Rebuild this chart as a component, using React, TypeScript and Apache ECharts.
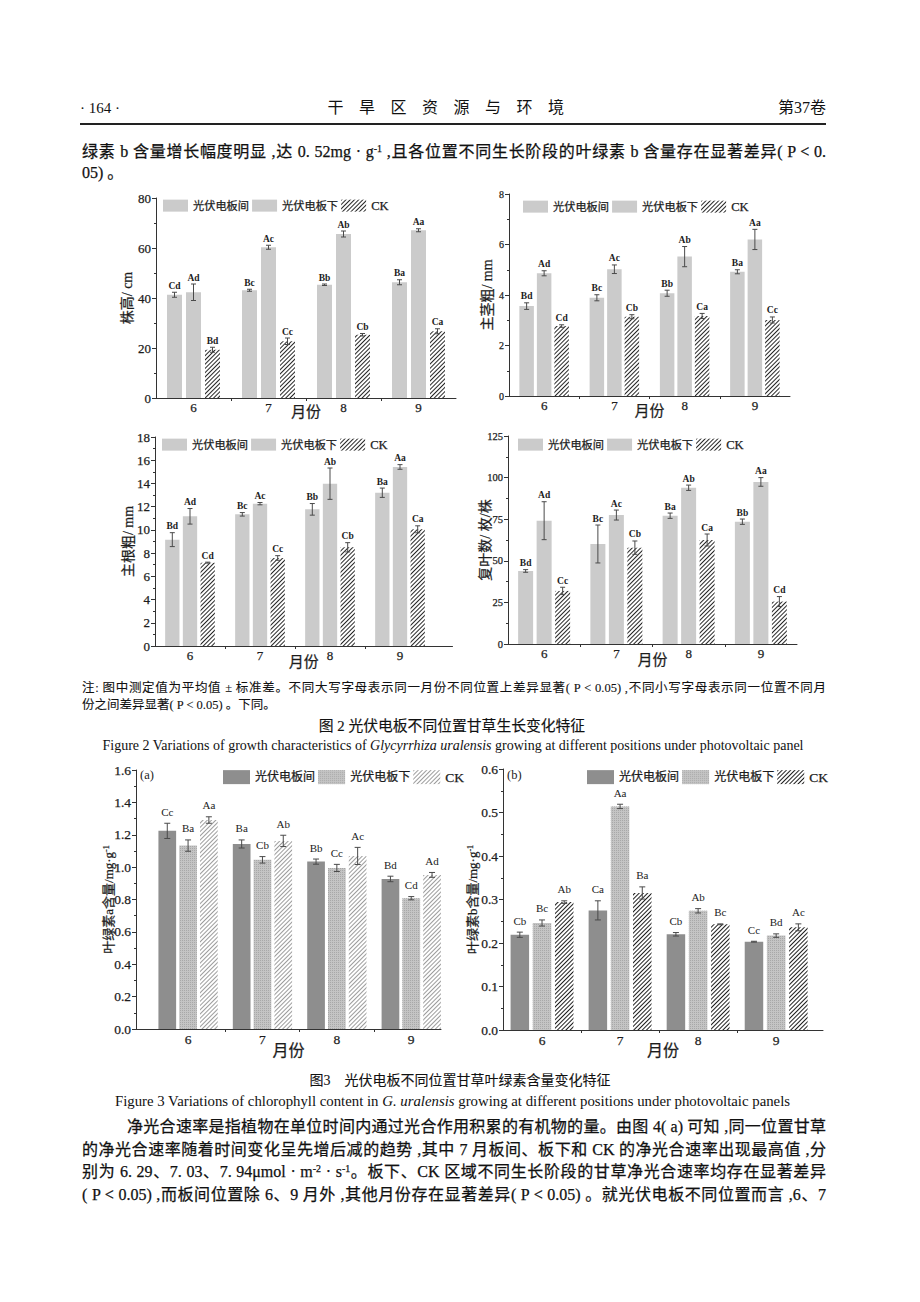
import React, { useEffect, useRef } from 'react';
import * as echarts from 'echarts';

// ---------------- data ----------------
const months = [6, 7, 8, 9];
const groupNames = ['光伏电板间', '光伏电板下', 'CK'];

// 图2 株高 / cm   (rows: 光伏电板间, 光伏电板下, CK)
const heightMean = [
  [41.3, 43.1, 45.3, 46.3],
  [42.3, 60.3, 65.6, 67.1],
  [19.3, 22.7, 25.3, 26.7],
];
const heightErr = [
  [1.0, 0.4, 0.3, 1.0],
  [3.3, 0.8, 1.2, 0.6],
  [1.0, 1.3, 0.5, 1.0],
];
const heightSig = [
  ['Cd', 'Bc', 'Bb', 'Ba'],
  ['Ad', 'Ac', 'Ab', 'Aa'],
  ['Bd', 'Cc', 'Cb', 'Ca'],
];

// 图2 主茎粗 / mm
const stemMean = [
  [3.56, 3.89, 4.07, 4.92],
  [4.86, 5.02, 5.52, 6.2],
  [2.77, 3.14, 3.17, 3.01],
];
const stemErr = [
  [0.13, 0.12, 0.12, 0.08],
  [0.1, 0.17, 0.4, 0.4],
  [0.05, 0.08, 0.1, 0.12],
];
const stemSig = [
  ['Bd', 'Bc', 'Bb', 'Ba'],
  ['Ad', 'Ac', 'Ab', 'Aa'],
  ['Cd', 'Cb', 'Ca', 'Cc'],
];

// 图2 主根粗 / mm
const rootMean = [
  [9.16, 11.34, 11.77, 13.2],
  [11.17, 12.26, 13.98, 15.42],
  [7.18, 7.58, 8.5, 10.05],
];
const rootErr = [
  [0.6, 0.15, 0.5, 0.4],
  [0.67, 0.1, 1.35, 0.2],
  [0.04, 0.2, 0.4, 0.3],
];
const rootSig = [
  ['Bd', 'Bc', 'Bb', 'Ba'],
  ['Ad', 'Ac', 'Ab', 'Aa'],
  ['Cd', 'Cc', 'Cb', 'Ca'],
];

// 图2 复叶数 / 枚/株
const leafMean = [
  [43.9, 60.1, 77.1, 73.5],
  [74.1, 77.5, 93.9, 97.4],
  [31.9, 57.9, 62.5, 25.5],
];
const leafErr = [
  [0.8, 11.4, 1.6, 1.6],
  [11.4, 3.0, 1.6, 2.6],
  [2.2, 4.0, 3.6, 3.0],
];
const leafSig = [
  ['Bd', 'Bc', 'Ba', 'Bb'],
  ['Ad', 'Ac', 'Ab', 'Aa'],
  ['Cc', 'Cb', 'Ca', 'Cd'],
];

// 图3(a) 叶绿素a含量 / mg·g-1
const chlAMean = [
  [1.224, 1.143, 1.034, 0.927],
  [1.133, 1.045, 0.995, 0.808],
  [1.291, 1.162, 1.069, 0.952],
];
const chlAErr = [
  [0.047, 0.025, 0.016, 0.017],
  [0.035, 0.02, 0.022, 0.01],
  [0.02, 0.035, 0.053, 0.015],
];
const chlASig = [
  ['Cc', 'Ba', 'Bb', 'Bd'],
  ['Ba', 'Cb', 'Cc', 'Cd'],
  ['Aa', 'Ab', 'Ac', 'Ad'],
];

// 图3(b) 叶绿素b含量 / mg·g-1
const chlBMean = [
  [0.219, 0.275, 0.22, 0.203],
  [0.246, 0.514, 0.274, 0.217],
  [0.294, 0.315, 0.243, 0.236],
];
const chlBErr = [
  [0.006, 0.022, 0.004, 0.001],
  [0.007, 0.005, 0.005, 0.004],
  [0.003, 0.014, 0.001, 0.008],
];
const chlBSig = [
  ['Cb', 'Ca', 'Cb', 'Cc'],
  ['Bc', 'Aa', 'Ab', 'Bd'],
  ['Ab', 'Ba', 'Bc', 'Ac'],
];

// ---------------- layout / style ----------------
const FAM_NUM = '"Liberation Serif", "Times New Roman", serif';
const FAM_CJK = '"Liberation Serif", "Noto Sans CJK SC", sans-serif';
const INK = '#1c1c1c';
const THICK = { textBorderColor: INK, textBorderWidth: 0.25 };

type Look = 'g2' | 'g3a' | 'g3b';
type Panel = {
  means: number[][];
  errs: number[][];
  sig: string[][];
  yName: string;
  yMax: number;
  yStep: number;
  yDecimals: number;
  grid: { left: number; top: number; width: number; height: number };
  xMin: number;
  xMax: number;
  barW: number;
  gapPx: number;
  yLabelSize: number;
  xLabelSize: number;
  yNameSize: number;
  yNameGap: number;
  xNameSize: number;
  xNameGap: number;
  legend: { left: number; top: number; iw: number; ih: number; fs: number; ck: number; gap: number };
  look: Look;
  sigSize: number;
  sigGap: number;
  sigWeight: string;
  capHalf: number;
};

const g2Legend = { iw: 25, ih: 12, fs: 11.2, ck: 12.5, gap: 3 };
const g3Legend = { iw: 27, ih: 14, fs: 12, ck: 13.5, gap: 3 };

const panels: Panel[] = [
  {
    means: heightMean, errs: heightErr, sig: heightSig, yName: '株高/ cm',
    yMax: 80, yStep: 20, yDecimals: 0,
    grid: { left: 156, top: 198, width: 300, height: 200 }, xMin: 5.5, xMax: 9.5,
    barW: 15, gapPx: 4, yLabelSize: 13, xLabelSize: 13, yNameSize: 14, yNameGap: 22,
    xNameSize: 15, xNameGap: 6, legend: { left: 163, top: 199, ...g2Legend }, look: 'g2',
    sigSize: 9.5, sigGap: 1.5, sigWeight: 'bold', capHalf: 2.5,
  },
  {
    means: stemMean, errs: stemErr, sig: stemSig, yName: '主茎粗/ mm',
    yMax: 8, yStep: 2, yDecimals: 0,
    grid: { left: 509, top: 194, width: 281, height: 202 }, xMin: 5.5, xMax: 9.5,
    barW: 14.5, gapPx: 3, yLabelSize: 10, xLabelSize: 13, yNameSize: 14, yNameGap: 15,
    xNameSize: 15, xNameGap: 7, legend: { left: 523, top: 200, ...g2Legend }, look: 'g2',
    sigSize: 9.5, sigGap: 1.5, sigWeight: 'bold', capHalf: 2.5,
  },
  {
    means: rootMean, errs: rootErr, sig: rootSig, yName: '主根粗/ mm',
    yMax: 18, yStep: 2, yDecimals: 0,
    grid: { left: 155, top: 437, width: 297.5, height: 209 }, xMin: 5.5, xMax: 9.75,
    barW: 14.3, gapPx: 3.4, yLabelSize: 13, xLabelSize: 13, yNameSize: 14, yNameGap: 20,
    xNameSize: 15, xNameGap: 8, legend: { left: 162, top: 438, ...g2Legend }, look: 'g2',
    sigSize: 9.5, sigGap: 1.5, sigWeight: 'bold', capHalf: 2.5,
  },
  {
    means: leafMean, errs: leafErr, sig: leafSig, yName: '复叶数/ 枚/株',
    yMax: 125, yStep: 25, yDecimals: 0,
    grid: { left: 508, top: 436, width: 289, height: 208 }, xMin: 5.5, xMax: 9.5,
    barW: 15, gapPx: 3.5, yLabelSize: 10.5, xLabelSize: 13, yNameSize: 14, yNameGap: 16,
    xNameSize: 15, xNameGap: 8, legend: { left: 518, top: 438, ...g2Legend }, look: 'g2',
    sigSize: 9.5, sigGap: 1.5, sigWeight: 'bold', capHalf: 2.5,
  },
  {
    means: chlAMean, errs: chlAErr, sig: chlASig, yName: '叶绿素a含量/mg·g{sup|-1}',
    yMax: 1.6, yStep: 0.2, yDecimals: 1,
    grid: { left: 136, top: 770, width: 305, height: 259 }, xMin: 5.3, xMax: 9.4,
    barW: 17.7, gapPx: 3.1, yLabelSize: 13.5, xLabelSize: 13.5, yNameSize: 13, yNameGap: 21,
    xNameSize: 16, xNameGap: 13, legend: { left: 223, top: 770, ...g3Legend }, look: 'g3a',
    sigSize: 11, sigGap: 6, sigWeight: 'normal', capHalf: 3,
  },
  {
    means: chlBMean, errs: chlBErr, sig: chlBSig, yName: '叶绿素b含量/mg·g{sup|-1}',
    yMax: 0.6, yStep: 0.1, yDecimals: 1,
    grid: { left: 503, top: 769, width: 320, height: 261 }, xMin: 5.5, xMax: 9.6,
    barW: 18.5, gapPx: 3.7, yLabelSize: 13.5, xLabelSize: 13.5, yNameSize: 13, yNameGap: 24,
    xNameSize: 16, xNameGap: 12, legend: { left: 587, top: 770, ...g3Legend }, look: 'g3b',
    sigSize: 11, sigGap: 6, sigWeight: 'normal', capHalf: 3,
  },
];

const panelTags = [
  { text: '(a)', left: 140, top: 768 },
  { text: '(b)', left: 507, top: 768 },
];

const hatch = (color: string, gap: number) => ({
  symbol: 'rect',
  symbolSize: 1,
  color,
  dashArrayX: [1, 0],
  dashArrayY: [1, gap],
  rotation: -Math.PI / 4,
});

function barStyles(look: Look): any[] {
  if (look === 'g2') {
    return [
      { color: '#cbcbcb' },
      { color: '#cbcbcb' },
      { color: '#ffffff', decal: hatch('#262626', 2) },
    ];
  }
  const dots = {
    symbol: 'rect',
    symbolSize: 1,
    color: '#a8a8a8',
    dashArrayX: [1, 1],
    dashArrayY: [1, 1],
    rotation: 0,
  };
  return [
    { color: '#8e8e8e' },
    { color: '#c4c4c4', decal: dots },
    { color: '#ffffff', decal: look === 'g3a' ? hatch('#9c9c9c', 2) : hatch('#1e1e1e', 2) },
  ];
}

function buildOption(): any {
  const grid: any[] = [];
  const xAxis: any[] = [];
  const yAxis: any[] = [];
  const series: any[] = [];
  const legend: any[] = [];
  const xTicks = months.slice(1).map((m) => m - 0.5);

  panels.forEach((p, pi) => {
    grid.push({
      left: p.grid.left,
      top: p.grid.top,
      width: p.grid.width,
      height: p.grid.height,
      containLabel: false,
      outerBoundsMode: 'none',
    });
    xAxis.push({
      type: 'value',
      gridIndex: pi,
      min: p.xMin,
      max: p.xMax,
      axisLine: { show: true, onZero: false, lineStyle: { color: '#333', width: 1 } },
      axisTick: { show: true, inside: false, length: 3, customValues: xTicks, lineStyle: { color: '#333' } },
      minorTick: { show: false },
      axisLabel: {
        customValues: months,
        fontSize: p.xLabelSize,
        fontFamily: FAM_NUM,
        color: INK,
        margin: 3,
        ...THICK,
        formatter: (v: number) => (Number.isInteger(v) ? String(v) : ''),
      },
      splitLine: { show: false },
      name: '月份',
      nameLocation: 'middle',
      nameGap: p.xNameGap,
      nameMoveOverlap: false,
      nameTextStyle: { fontSize: p.xNameSize, fontFamily: FAM_CJK, color: INK, ...THICK },
    });
    yAxis.push({
      type: 'value',
      gridIndex: pi,
      min: 0,
      max: p.yMax,
      interval: p.yStep,
      axisLine: { show: true, lineStyle: { color: '#333', width: 1 } },
      axisTick: { show: true, length: 4, lineStyle: { color: '#333' } },
      minorTick: { show: true, splitNumber: 2, length: 2, lineStyle: { color: '#333' } },
      splitLine: { show: false },
      axisLabel: {
        fontSize: p.yLabelSize,
        fontFamily: FAM_NUM,
        color: INK,
        margin: 5,
        ...THICK,
        formatter: (v: number) => v.toFixed(p.yDecimals),
      },
      name: p.yName,
      nameLocation: 'middle',
      nameRotate: 90,
      nameGap: p.yNameGap,
      nameMoveOverlap: false,
      nameTextStyle: {
        fontSize: p.yNameSize,
        fontFamily: FAM_CJK,
        color: INK,
        ...THICK,
        rich: { sup: { fontSize: 8, fontFamily: FAM_NUM, color: INK, verticalAlign: 'top' } },
      },
    });

    const styles = barStyles(p.look);
    const pitch = p.barW + p.gapPx;
    for (let s = 0; s < 3; s++) {
      series.push({
        type: 'bar',
        name: `${groupNames[s]}#${pi}`,
        xAxisIndex: pi,
        yAxisIndex: pi,
        data: months.map((m, i) => [m, p.means[s][i]]),
        barWidth: p.barW,
        barGap: `${((p.gapPx / p.barW) * 100).toFixed(2)}%`,
        itemStyle: styles[s],
        silent: true,
        z: 2,
      });
      series.push({
        type: 'custom',
        name: `err${pi}_${s}`,
        xAxisIndex: pi,
        yAxisIndex: pi,
        dimensions: ['x', 'y', 'e'],
        encode: { x: 0, y: 1 },
        data: months.map((m, i) => [m, p.means[s][i], p.errs[s][i]]),
        silent: true,
        z: 5,
        renderItem: (params: any, api: any) => {
          const x = api.value(0) as number;
          const y = api.value(1) as number;
          const e = api.value(2) as number;
          const top = api.coord([x, y + e]);
          const bot = api.coord([x, y - e]);
          const cx = top[0] + (s - 1) * pitch;
          const st = { stroke: '#4a4a4a', lineWidth: 1 };
          const children: any[] = [
            { type: 'line', shape: { x1: cx, y1: top[1], x2: cx, y2: bot[1] }, style: st },
            { type: 'line', shape: { x1: cx - p.capHalf, y1: top[1], x2: cx + p.capHalf, y2: top[1] }, style: st },
            { type: 'line', shape: { x1: cx - p.capHalf, y1: bot[1], x2: cx + p.capHalf, y2: bot[1] }, style: st },
            {
              type: 'text',
              x: cx,
              y: top[1] - p.sigGap,
              style: {
                text: p.sig[s][params.dataIndex],
                fontSize: p.sigSize,
                fontFamily: FAM_NUM,
                fontWeight: p.sigWeight,
                fill: INK,
                align: 'center',
                verticalAlign: 'bottom',
                textAlign: 'center',
                textVerticalAlign: 'bottom',
              },
            },
          ];
          return { type: 'group', children };
        },
      });
    }

    legend.push({
      left: p.legend.left,
      top: p.legend.top,
      orient: 'horizontal',
      itemWidth: p.legend.iw,
      itemHeight: p.legend.ih,
      itemGap: p.legend.gap,
      icon: 'rect',
      padding: 0,
      selectedMode: false,
      data: groupNames.map((n) => `${n}#${pi}`),
      formatter: (n: string) => {
        const label = n.split('#')[0];
        return /^[A-Z]+$/.test(label) ? `{ck|${label}}` : label;
      },
      textStyle: {
        fontSize: p.legend.fs,
        fontFamily: FAM_CJK,
        color: INK,
        ...THICK,
        rich: { ck: { fontSize: p.legend.ck, fontFamily: FAM_NUM, color: INK, ...THICK } },
      },
    });
  });

  const graphic: any[] = panelTags.map((t) => ({
    type: 'text',
    left: t.left,
    top: t.top,
    z: 10,
    style: { text: t.text, fontSize: 12.5, fontFamily: FAM_NUM, fill: INK },
  }));

  return {
    animation: false,
    backgroundColor: '#ffffff',
    grid,
    xAxis,
    yAxis,
    legend,
    series,
    graphic,
  };
}

// ---------------- page text ----------------
const abs = (top: number, left: number, extra: React.CSSProperties = {}): React.CSSProperties => ({
  position: 'absolute',
  top,
  left,
  color: '#111',
  fontFamily: FAM_CJK,
  WebkitTextStroke: '0.25px #111',
  ...extra,
});

const supStyle: React.CSSProperties = { fontSize: '0.62em', verticalAlign: '0.55em', lineHeight: 0 };
const justLine = (center: number, left: number, width: number, size: number, lh: number, extra: React.CSSProperties = {}): React.CSSProperties =>
  abs(center - lh / 2, left, {
    width,
    fontSize: size,
    lineHeight: `${lh}px`,
    height: lh,
    textAlign: 'justify',
    textAlignLast: 'justify' as any,
    overflow: 'visible',
    ...extra,
  });
const plainLine = (center: number, left: number, size: number, lh: number, extra: React.CSSProperties = {}) =>
  abs(center - lh / 2, left, { fontSize: size, lineHeight: `${lh}px`, whiteSpace: 'nowrap', ...extra });

const LIGHT: React.CSSProperties = { WebkitTextStroke: '0px #111' };

export default function App() {
  const ref = useRef<HTMLDivElement>(null);
  useEffect(() => {
    document.body.style.margin = '0';
    const chart = echarts.init(ref.current!, undefined, { renderer: 'svg', width: 920, height: 1302 });
    chart.setOption(buildOption());
    return () => chart.dispose();
  }, []);

  return (
    <div style={{ position: 'absolute', left: 0, top: 0, width: 920, height: 1302, background: '#fff', overflow: 'hidden' }}>
      <div ref={ref} style={{ position: 'absolute', left: 0, top: 0, width: 920, height: 1302 }} />

      {/* running head */}
      <div style={plainLine(108, 80, 15, 20, { fontFamily: FAM_NUM, ...LIGHT })}>· 164 ·</div>
      <div style={plainLine(108, 0, 16, 20, { width: 907, textAlign: 'center', letterSpacing: '15.5px', ...LIGHT })}>干旱区资源与环境</div>
      <div style={plainLine(108, 700, 16, 20, { width: 126, textAlign: 'right', ...LIGHT })}>第37卷</div>
      <div style={{ position: 'absolute', left: 80, top: 123, width: 746, height: 1.5, background: '#222' }} />

      {/* body text above the figures */}
      <div style={justLine(152, 82, 744, 16, 22)}>
        绿素 b 含量增长幅度明显 ,达 0. 52mg · g<sup style={supStyle}>-1</sup> ,且各位置不同生长阶段的叶绿素 b 含量存在显著差异( P &lt; 0.
      </div>
      <div style={plainLine(173, 82, 16, 22)}>05) 。</div>

      {/* figure 2 note and captions */}
      <div style={justLine(688, 82, 744, 12.5, 17, { WebkitTextStroke: '0.1px #111' })}>
        注: 图中测定值为平均值 ± 标准差。不同大写字母表示同一月份不同位置上差异显著( P &lt; 0.05) ,不同小写字母表示同一位置不同月
      </div>
      <div style={plainLine(705, 82, 12.5, 17, { WebkitTextStroke: '0.1px #111' })}>份之间差异显著( P &lt; 0.05) 。下同。</div>
      <div style={plainLine(726, 0, 14.8, 18, { width: 904, textAlign: 'center', WebkitTextStroke: '0.15px #111' })}>图 2 光伏电板不同位置甘草生长变化特征</div>
      <div style={plainLine(746, 0, 14, 16, { width: 906, textAlign: 'center', fontFamily: FAM_NUM, ...LIGHT })}>
        Figure 2 Variations of growth characteristics of <i>Glycyrrhiza uralensis</i> growing at different positions under photovoltaic panel
      </div>

      {/* figure 3 captions */}
      <div style={plainLine(1081, 0, 14, 18, { width: 920, textAlign: 'center', WebkitTextStroke: '0.1px #111' })}>图3　光伏电板不同位置甘草叶绿素含量变化特征</div>
      <div style={plainLine(1101, 0, 14.8, 16, { width: 905, textAlign: 'center', fontFamily: FAM_NUM, ...LIGHT })}>
        Figure 3 Variations of chlorophyll content in <i>G. uralensis</i> growing at different positions under photovoltaic panels
      </div>

      {/* body paragraph */}
      <div style={justLine(1127, 127, 699, 16, 22)}>
        净光合速率是指植物在单位时间内通过光合作用积累的有机物的量。由图 4( a) 可知 ,同一位置甘草
      </div>
      <div style={justLine(1150, 82, 744, 16, 22)}>
        的净光合速率随着时间变化呈先增后减的趋势 ,其中 7 月板间、板下和 CK 的净光合速率出现最高值 ,分
      </div>
      <div style={justLine(1172, 82, 744, 16, 22)}>
        别为 6. 29、7. 03、7. 94μmol · m<sup style={supStyle}>-2</sup> · s<sup style={supStyle}>-1</sup>。板下、CK 区域不同生长阶段的甘草净光合速率均存在显著差异
      </div>
      <div style={justLine(1195, 82, 744, 16, 22)}>
        ( P &lt; 0.05) ,而板间位置除 6、9 月外 ,其他月份存在显著差异( P &lt; 0.05) 。就光伏电板不同位置而言 ,6、7
      </div>
    </div>
  );
}
